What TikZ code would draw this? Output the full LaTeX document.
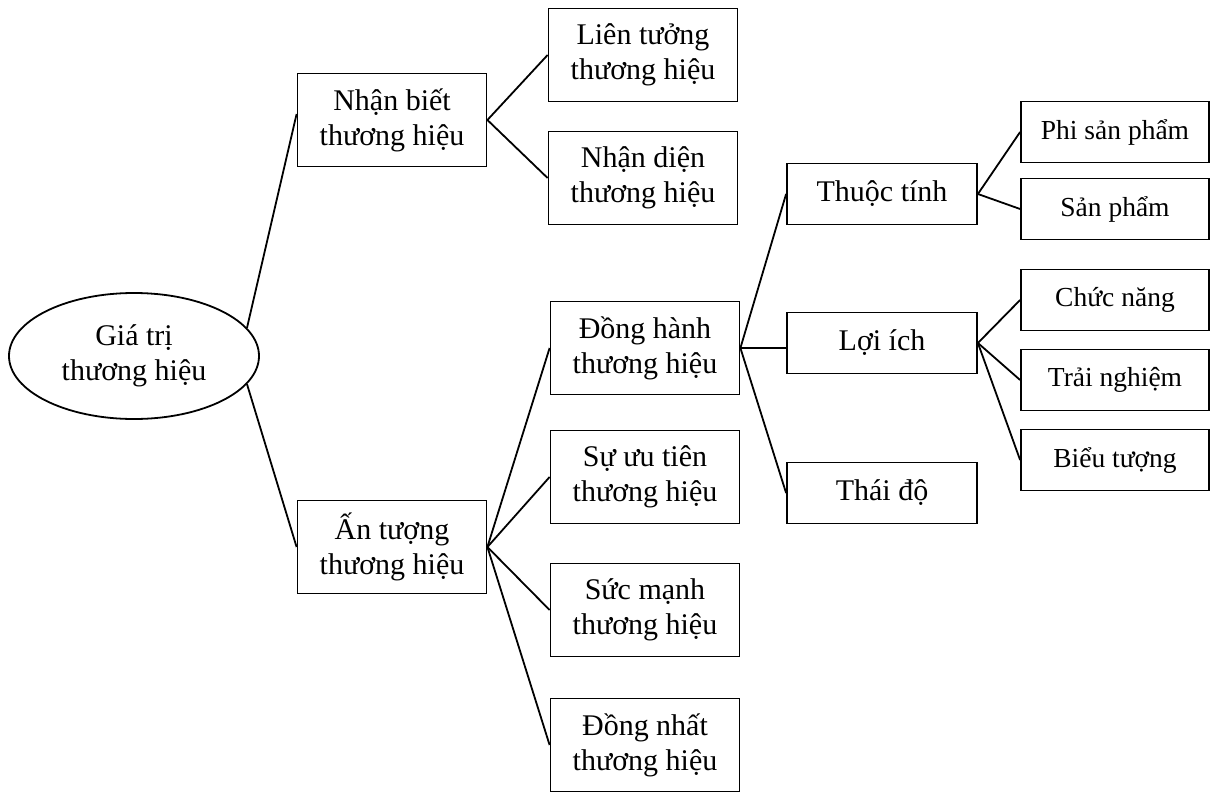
\documentclass[tikz,border=0pt]{standalone}
\usepackage{fontspec}
\setmainfont{Liberation Serif}
\usetikzlibrary{shapes.geometric}
\begin{document}
\begin{tikzpicture}[x=1pt,y=-1pt,
  every node/.style={font=\fontsize{30}{35}\selectfont, align=center, inner sep=0pt},
  bigbox/.style={draw, line width=1.8pt, minimum width=189pt, minimum height=93pt},
  midbox/.style={draw, line width=1.8pt, minimum width=190pt, minimum height=61pt},
  leafbox/.style={draw, line width=1.8pt, minimum width=188pt, minimum height=61pt, font=\fontsize{27.5}{33}\selectfont},
  link/.style={line width=1.8pt}]
\useasboundingbox (0,0) rectangle (1215,792);

% root
\node[ellipse, draw, line width=1.8pt, minimum width=250pt, minimum height=126pt] (g) at (134,356) {Giá trị\\thương hiệu};

% second level
\node[bigbox] (nb) at (392,120) {Nhận biết\\thương hiệu};
\node[bigbox] (at) at (392,547) {Ấn tượng\\thương hiệu};

% third level
\node[bigbox] (lt) at (643,55) {Liên tưởng\\thương hiệu};
\node[bigbox] (nd) at (643,178) {Nhận diện\\thương hiệu};
\node[bigbox] (dh) at (645,348) {Đồng hành\\thương hiệu};
\node[bigbox] (ut) at (645,477) {Sự ưu tiên\\thương hiệu};
\node[bigbox] (sm) at (645,610) {Sức mạnh\\thương hiệu};
\node[bigbox] (dn) at (645,745) {Đồng nhất\\thương hiệu};

% fourth level
\node[midbox] (tt) at (882,194) {Thuộc tính};
\node[midbox] (li) at (882,343) {Lợi ích};
\node[midbox] (td) at (882,493) {Thái độ};

% leaves
\node[leafbox] (ps) at (1115,132) {Phi sản phẩm};
\node[leafbox] (sp) at (1115,209) {Sản phẩm};
\node[leafbox] (cn) at (1115,300) {Chức năng};
\node[leafbox] (tn) at (1115,380) {Trải nghiệm};
\node[leafbox] (bt) at (1115,460) {Biểu tượng};

% connectors
\draw[link] (g.14.6) -- ([yshift=6pt]nb.west);
\draw[link] (g.-14) -- (at.west);
\draw[link] (nb.east) -- (lt.west);
\draw[link] (nb.east) -- (nd.west);
\draw[link] (at.east) -- (dh.west);
\draw[link] (at.east) -- (ut.west);
\draw[link] (at.east) -- (sm.west);
\draw[link] (at.east) -- (dn.west);
\draw[link] (dh.east) -- (tt.west);
\draw[link] (dh.east) -- (dh.east -| li.west);
\draw[link] (dh.east) -- (td.west);
\draw[link] (tt.east) -- (ps.west);
\draw[link] (tt.east) -- (sp.west);
\draw[link] (li.east) -- (cn.west);
\draw[link] (li.east) -- (tn.west);
\draw[link] (li.east) -- (bt.west);
\end{tikzpicture}
\end{document}
